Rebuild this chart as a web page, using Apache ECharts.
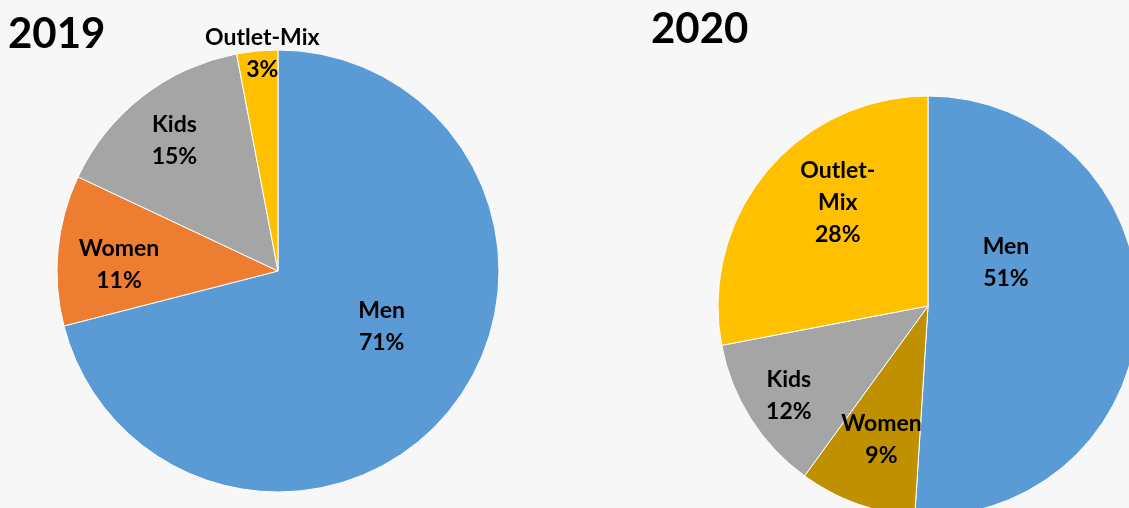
<!DOCTYPE html>
<html>

<head>
	<meta charset="utf-8">
	<title>Sales mix 2019 / 2020</title>
	<script src="https://cdn.jsdelivr.net/npm/echarts@6/dist/echarts.min.js"></script>
	<style>
		html, body { margin: 0; padding: 0; background: #f7f7f7; }
		#chart { width: 1129px; height: 508px; }
	</style>
</head>

<body>
	<div id="chart"></div>

	<script>
		// 数据
		var categories = ['Men', 'Women', 'Kids', 'Outlet-Mix'];
		var share2019 = [71, 11, 15, 3];
		var share2020 = [51, 9, 12, 28];
		var years = ['2019', '2020'];

		// 颜色
		var colors2019 = ['#5b9bd5', '#ed7d31', '#a5a5a5', '#ffc000'];
		var colors2020 = ['#5b9bd5', '#bf9000', '#a5a5a5', '#ffc000'];

		// label offsets from the default inside position (Excel best fit)
		var shift2019 = [[14, -14], [-46, 4], [-34, -41], [-5, -104]];
		var shift2020 = [[-30, -47], [-10, 32], [-48, 32], [-7, -35]];

		var font = 'Lato, "Open Sans", sans-serif';

		function buildData(values, colors) {
			return categories.map(function (name, i) {
				return { name: name, value: values[i], itemStyle: { color: colors[i] } };
			});
		}

		function pieSeries(values, colors, shifts, center, radius, wrap) {
			return {
				type: 'pie',
				center: center,
				radius: radius,
				startAngle: 90,
				clockwise: true,
				data: buildData(values, colors),
				itemStyle: { borderColor: '#ffffff', borderWidth: 1 },
				label: {
					show: true,
					position: 'inside',
					color: '#000',
					fontFamily: font,
					fontWeight: 'bold',
					fontSize: 23,
					lineHeight: 32,
					formatter: function (p) {
						var n = wrap ? p.name.replace('-', '-\n') : p.name;
						return n + '\n' + p.value + '%';
					}
				},
				labelLine: { show: false },
				labelLayout: function (p) {
					var s = shifts[p.dataIndex];
					return { dx: s[0], dy: s[1] };
				},
				emphasis: { scale: false },
				animation: false
			};
		}

		var chart = echarts.init(document.getElementById('chart'));
		chart.setOption({
			backgroundColor: '#f7f7f7',
			title: [{
				text: years[0],
				left: 3,
				top: 8,
				textStyle: { fontFamily: font, fontWeight: 'bold', fontSize: 42, color: '#000' }
			}, {
				text: years[1],
				left: 646,
				top: 3,
				textStyle: { fontFamily: font, fontWeight: 'bold', fontSize: 42, color: '#000' }
			}],
			series: [
				pieSeries(share2019, colors2019, shift2019, [278, 271], 221, false),
				pieSeries(share2020, colors2020, shift2020, [928, 306], 210, true)
			]
		});
	</script>
</body>

</html>
